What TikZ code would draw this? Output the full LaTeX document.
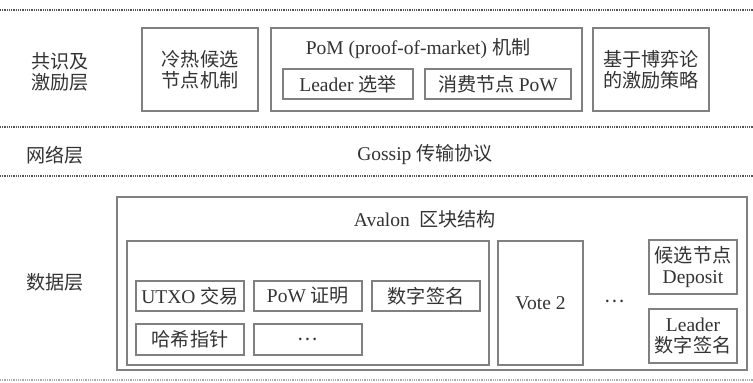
\documentclass[tikz,border=0pt]{standalone}
\usepackage{fontspec}
\setmainfont{Liberation Serif}
\newfontfamily\cjk[Scale=0.98]{Noto Sans CJK SC}
\definecolor{boxgray}{HTML}{808080}
\definecolor{txt}{HTML}{333333}
\definecolor{dotgray}{HTML}{555555}
\begin{document}
\begin{tikzpicture}[x=1pt,y=-1pt,
  every node/.style={text=txt,font=\fontsize{19.5}{21.5}\selectfont},
  box/.style={draw=boxgray,line width=1.1pt,inner sep=0pt,align=center},
  lbl/.style={inner sep=0pt,align=center},
  sepline/.style={draw=dotgray,line width=1.1pt,dash pattern=on 0.9pt off 0.9pt}]
\useasboundingbox (0,0) rectangle (753,383);
% separators
\coordinate (s1a) at (0,10);   \coordinate (s1b) at (753,10);
\coordinate (s2a) at (0,127);  \coordinate (s2b) at (753,127);
\coordinate (s3a) at (0,176);  \coordinate (s3b) at (753,176);
\coordinate (s4a) at (0,380);  \coordinate (s4b) at (753,380);
\draw[sepline] (s1a) -- (s1b);
\draw[sepline] (s2a) -- (s2b);
\draw[sepline] (s3a) -- (s3b);
\draw[sepline,draw=dotgray!50] (s4a) -- (s4b);
% consensus layer
\node[lbl] (L1) at (60,72) {\cjk 共识及\\\cjk 激励层};
\node[box,minimum width=116,minimum height=83] (b1) at (200,69.5) {\cjk 冷热候选\\\cjk 节点机制};
\node[box,minimum width=311,minimum height=83] (b2) at (426.5,69.5) {};
\node[lbl] (b2t) at (418,49) {PoM (proof-of-market) \cjk 机制};
\node[box,minimum width=130,minimum height=30] (b2a) at (348,84) {Leader \cjk 选举};
\node[box,minimum width=146,minimum height=30] (b2b) at (498,84) {\cjk 消费节点 \normalfont PoW};
\node[box,minimum width=116,minimum height=83] (b3) at (651,69.5) {\cjk 基于博弈论\\\cjk 的激励策略};
% network layer
\node[lbl] (L2) at (55,155) {\cjk 网络层};
\node[lbl] (gossip) at (425,155) {Gossip \cjk 传输协议};
% data layer
\node[lbl] (L3) at (55,282) {\cjk 数据层};
\node[box,minimum width=630,minimum height=173] (outer) at (432,283.5) {};
\node[lbl] (outt) at (425,219) {Avalon\ \ \cjk 区块结构};
\node[box,minimum width=362,minimum height=124] (A) at (308,303) {};
\node[box,minimum width=108,minimum height=30] (u1) at (190,296) {UTXO \cjk 交易};
\node[box,minimum width=108,minimum height=30] (u2) at (308,296) {PoW \cjk 证明};
\node[box,minimum width=108,minimum height=30] (u3) at (426,296) {\cjk 数字签名};
\node[box,minimum width=108,minimum height=31] (u4) at (190,339.5) {\cjk 哈希指针};
\node[box,minimum width=108,minimum height=31] (u5) at (308,339.5) {\cjk …};
\node[box,minimum width=85,minimum height=124] (vote) at (540.5,303) {Vote 2};
\node[lbl] (dots) at (615,301) {\cjk …};
\node[box,minimum width=88,minimum height=54] (d1) at (693,267) {\cjk 候选节点\\Deposit};
\node[box,minimum width=88,minimum height=54] (d2) at (693,336) {Leader\\\cjk 数字签名};
\end{tikzpicture}
\end{document}
